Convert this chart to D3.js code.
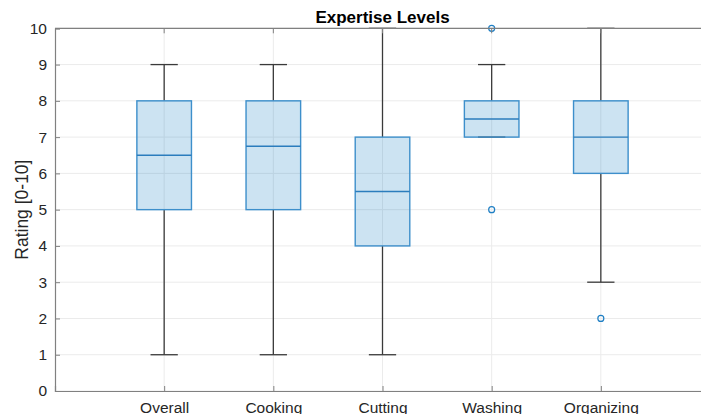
<!DOCTYPE html>
<html>
<head>
<meta charset="utf-8">
<script src="https://cdn.jsdelivr.net/npm/d3@7"></script>
<style>
  html, body { margin: 0; padding: 0; background: #fff; }
  svg { display: block; font-family: "Liberation Sans", Arial, sans-serif; }
</style>
</head>
<body>
<svg id="chart" width="701" height="414"></svg>
<script>
// Expertise ratings per task (five-number summaries and outliers)
const categories = ["Overall", "Cooking", "Cutting", "Washing", "Organizing"];
const whiskerLow  = [1, 1, 1, 7, 3];
const q1          = [5, 5, 4, 7, 6];
const medians     = [6.5, 6.75, 5.5, 7.5, 7];
const q3          = [8, 8, 7, 8, 8];
const whiskerHigh = [9, 9, 10, 9, 10];
const outliers    = [[], [], [], [10, 5], [2]];
const yTicks = [0, 1, 2, 3, 4, 5, 6, 7, 8, 9, 10];

const svg = d3.select("#chart");
const margin = { left: 55, right: 710, top: 28.3, bottom: 391 };

const x = d3.scaleLinear().domain([0, categories.length + 1]).range([margin.left, margin.right]);
const y = d3.scaleLinear().domain([0, 10]).range([margin.bottom, margin.top]);

const boxHalf = 0.25, capHalf = 0.125;
const data = categories.map((c, i) => ({
  name: c, pos: i + 1,
  lo: whiskerLow[i], q1: q1[i], med: medians[i], q3: q3[i], hi: whiskerHigh[i],
  out: outliers[i]
}));

// Grid lines
const grid = svg.append("g");
grid.selectAll("line.gy").data(yTicks).join("line")
  .attr("x1", margin.left).attr("x2", margin.right)
  .attr("y1", d => y(d)).attr("y2", d => y(d))
  .attr("stroke", "#ebebeb").attr("stroke-width", 1);
grid.selectAll("line.gx").data(data).join("line")
  .attr("x1", d => x(d.pos)).attr("x2", d => x(d.pos))
  .attr("y1", margin.top).attr("y2", margin.bottom)
  .attr("stroke", "#ebebeb").attr("stroke-width", 1);

// Whiskers and caps
const wh = svg.append("g").attr("stroke", "#3a3a3a").attr("stroke-width", 1.3);
data.forEach(d => {
  wh.append("line").attr("x1", x(d.pos)).attr("x2", x(d.pos)).attr("y1", y(d.q3)).attr("y2", y(d.hi));
  wh.append("line").attr("x1", x(d.pos)).attr("x2", x(d.pos)).attr("y1", y(d.q1)).attr("y2", y(d.lo));
  wh.append("line").attr("x1", x(d.pos - capHalf)).attr("x2", x(d.pos + capHalf)).attr("y1", y(d.hi)).attr("y2", y(d.hi));
  wh.append("line").attr("x1", x(d.pos - capHalf)).attr("x2", x(d.pos + capHalf)).attr("y1", y(d.lo)).attr("y2", y(d.lo));
});

// Boxes
svg.append("g").selectAll("rect").data(data).join("rect")
  .attr("x", d => x(d.pos - boxHalf))
  .attr("width", d => x(d.pos + boxHalf) - x(d.pos - boxHalf))
  .attr("y", d => y(d.q3))
  .attr("height", d => y(d.q1) - y(d.q3))
  .attr("fill", "#0072bd").attr("fill-opacity", 0.2)
  .attr("stroke", "#3d8fcb").attr("stroke-width", 1.4);

// Medians
svg.append("g").selectAll("line").data(data).join("line")
  .attr("x1", d => x(d.pos - boxHalf)).attr("x2", d => x(d.pos + boxHalf))
  .attr("y1", d => y(d.med)).attr("y2", d => y(d.med))
  .attr("stroke", "#2b7dbd").attr("stroke-width", 1.4);

// Outliers
const outPts = data.flatMap(d => d.out.map(v => ({ pos: d.pos, v })));
svg.append("g").selectAll("circle").data(outPts).join("circle")
  .attr("cx", d => x(d.pos)).attr("cy", d => y(d.v)).attr("r", 3)
  .attr("fill", "none").attr("stroke", "#1f7fc4").attr("stroke-width", 1.2);

// Axes
const axisColor = "#808080";
const yAxis = svg.append("g").attr("transform", `translate(${margin.left},0)`)
  .call(d3.axisLeft(y).tickValues(yTicks).tickSize(-5).tickPadding(8).tickFormat(d3.format("d")));
const xAxis = svg.append("g").attr("transform", `translate(0,${margin.bottom})`)
  .call(d3.axisBottom(x).tickValues(data.map(d => d.pos)).tickSize(-5).tickPadding(11)
    .tickFormat((d, i) => categories[i]));
[yAxis, xAxis].forEach(a => {
  a.select(".domain").attr("stroke", axisColor).attr("stroke-width", 1.2);
  a.selectAll(".tick line").attr("stroke", axisColor);
  a.selectAll(".tick text").attr("fill", "#262626").attr("font-size", 15.5)
    .attr("font-family", "'Liberation Sans', Arial, sans-serif");
});
// Top border of the axes box
svg.append("line").attr("x1", margin.left).attr("x2", margin.right)
  .attr("y1", margin.top).attr("y2", margin.top)
  .attr("stroke", axisColor).attr("stroke-width", 1.2);
svg.append("g").selectAll("line").data(data).join("line")
  .attr("x1", d => x(d.pos)).attr("x2", d => x(d.pos))
  .attr("y1", margin.top).attr("y2", margin.top + 5)
  .attr("stroke", axisColor);

// Title and axis label
svg.append("text").attr("x", x((categories.length + 1) / 2)).attr("y", 23)
  .attr("text-anchor", "middle").attr("font-weight", "bold").attr("font-size", 17)
  .attr("fill", "#000").text("Expertise Levels");
svg.append("text")
  .attr("transform", `translate(28,${(margin.top + margin.bottom) / 2}) rotate(-90)`)
  .attr("text-anchor", "middle").attr("font-size", 17.5).attr("fill", "#262626")
  .text("Rating [0-10]");
</script>
</body>
</html>
